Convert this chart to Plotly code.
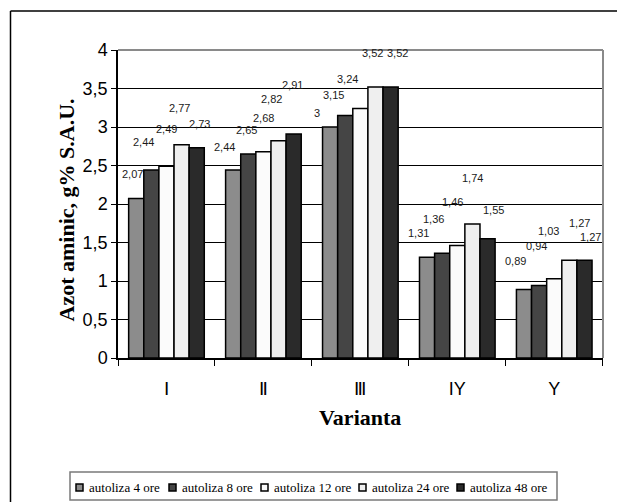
import plotly.graph_objects as go

# ---- data ----
categories = ["Ⅰ", "Ⅱ", "Ⅲ", "IY", "Y"]
series_names = ["autoliza 4 ore", "autoliza 8 ore", "autoliza 12 ore",
                "autoliza 24 ore", "autoliza 48 ore"]
ore_4 = [2.07, 2.44, 3.00, 1.31, 0.89]
ore_8 = [2.44, 2.65, 3.15, 1.36, 0.94]
ore_12 = [2.49, 2.68, 3.24, 1.46, 1.03]
ore_24 = [2.77, 2.82, 3.52, 1.74, 1.27]
ore_48 = [2.73, 2.91, 3.52, 1.55, 1.27]
series_values = [ore_4, ore_8, ore_12, ore_24, ore_48]

# ---- style ----
colors = ["#8c8c8c", "#454545", "#fbfbfb", "#efefef", "#2a2a2a"]
W, H = 617, 502
L, R, T, B = 118, 14, 50, 144          # plot-area margins (px)
PW, PH = W - L - R, H - T - B
BARGAP = 0.22
BAR_PX = PW / len(categories) * (1 - BARGAP) / len(series_names)

# label nudges (px): dx sideways, dy above bar top, per series then category
label_dx = [[-4, -9, -13, -9, -8],
            [-8, -2, -12, -9, -3],
            [0, 0, -13, -5, -6],
            [-2, -7, -3, 0, 10],
            [3, -1, 7, 6, 6]]
label_dy = [[25, 23, 14, 24, 28],
            [28, 24, 20, 34, 40],
            [37, 34, 30, 44, 48],
            [37, 42, 34, 46, 37],
            [24, 49, 34, 29, 23]]

legend_text_x = [87, 180, 272, 370, 468]   # px


def px_x(px):
    return (px - L) / PW


def px_y(py):
    return (H - B - py) / PH


def fmt(v):
    s = f"{v:.2f}".rstrip("0").rstrip(".")
    return s.replace(".", ",")


fig = go.Figure()
for name, vals, col in zip(series_names, series_values, colors):
    fig.add_trace(go.Bar(
        x=categories, y=vals, name=name,
        marker=dict(color=col, line=dict(color="#000000", width=1.5)),
        showlegend=False,
    ))

annotations = []
n = len(series_names)
for si, vals in enumerate(series_values):
    for ci, v in enumerate(vals):
        annotations.append(dict(
            x=categories[ci], y=v, xref="x", yref="y",
            text=fmt(v), showarrow=False,
            xanchor="center", yanchor="middle",
            xshift=(si - (n - 1) / 2) * BAR_PX + label_dx[si][ci],
            yshift=label_dy[si][ci],
            font=dict(family="Arial, Liberation Sans", size=11, color="#1a1a1a"),
        ))

# axis titles
annotations.append(dict(
    x=px_x(52), y=px_y(210), xref="paper", yref="paper",
    text="<b>Azot aminic, g% S.A.U.</b>", textangle=-90, showarrow=False,
    font=dict(family="Times New Roman, Liberation Serif", size=22, color="#000"),
))
annotations.append(dict(
    x=px_x(360), y=px_y(432), xref="paper", yref="paper",
    text="<b>Varianta</b>", showarrow=False,
    font=dict(family="Times New Roman, Liberation Serif", size=22, color="#000"),
))

shapes = [
    # outer frame (left and top edges)
    dict(type="line", xref="paper", yref="paper",
         x0=px_x(10.5), x1=px_x(640), y0=px_y(11), y1=px_y(11),
         line=dict(color="#000", width=1.5)),
    dict(type="line", xref="paper", yref="paper",
         x0=px_x(10.5), x1=px_x(10.5), y0=px_y(11), y1=px_y(520),
         line=dict(color="#000", width=1.5)),
    # plot area top and right borders
    dict(type="line", xref="paper", yref="paper", x0=0, x1=1, y0=1, y1=1,
         line=dict(color="#8a8a8a", width=2)),
    dict(type="line", xref="paper", yref="paper", x0=1, x1=1, y0=0, y1=1,
         line=dict(color="#8a8a8a", width=2)),
    # legend box
    dict(type="rect", xref="paper", yref="paper",
         x0=px_x(70), x1=px_x(557), y0=px_y(500), y1=px_y(472),
         line=dict(color="#7a7a7a", width=1.5), fillcolor="#ffffff"),
]

for name, col, tx in zip(series_names, colors, legend_text_x):
    shapes.append(dict(type="rect", xref="paper", yref="paper",
                       x0=px_x(tx - 11), x1=px_x(tx - 4),
                       y0=px_y(491), y1=px_y(484),
                       line=dict(color="#000", width=1.5), fillcolor=col))
    annotations.append(dict(
        x=px_x(tx), y=px_y(487.5), xref="paper", yref="paper",
        text=name, showarrow=False, xanchor="left", yanchor="middle",
        font=dict(family="Times New Roman, Liberation Serif", size=13, color="#000"),
    ))

fig.update_layout(
    width=W, height=H,
    margin=dict(l=L, r=R, t=T, b=B),
    paper_bgcolor="#ffffff", plot_bgcolor="#ffffff",
    barmode="group", bargap=BARGAP, bargroupgap=0,
    separators=", ",
    showlegend=False,
    annotations=annotations, shapes=shapes,
    xaxis=dict(
        showline=True, linecolor="#000", linewidth=1.5,
        ticks="outside", ticklen=6, tickcolor="#000", tickwidth=1,
        tickson="boundaries", showgrid=False,
        tickfont=dict(family="Arial, Liberation Sans", size=18, color="#000"),
        ticklabelstandoff=14,
    ),
    yaxis=dict(
        range=[0, 4], dtick=0.5, tick0=0,
        showline=True, linecolor="#000", linewidth=1.5,
        ticks="outside", ticklen=5, tickcolor="#000", tickwidth=1,
        showgrid=True, gridcolor="#000", gridwidth=1,
        zeroline=False,
        tickfont=dict(family="Arial, Liberation Sans", size=18, color="#000"),
    ),
)

fig.write_html("out.html")
